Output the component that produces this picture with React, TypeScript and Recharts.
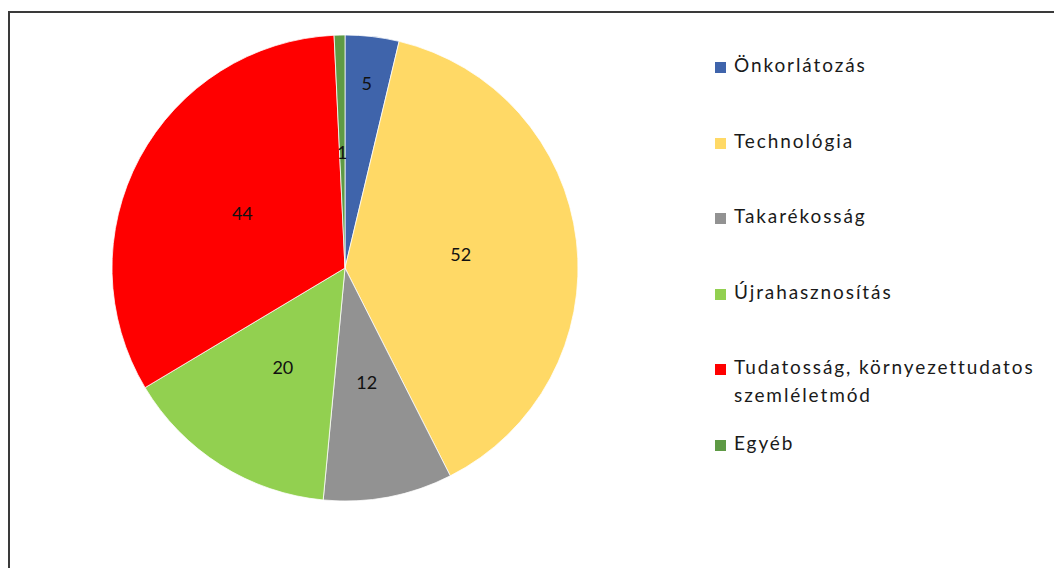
import React from 'react';
import { PieChart, Pie, Cell } from 'recharts';

const categories = [
  'Önkorlátozás',
  'Technológia',
  'Takarékosság',
  'Újrahasznosítás',
  'Tudatosság, környezettudatos szemléletmód',
  'Egyéb',
];
const values = [5, 52, 12, 20, 44, 1];
const colors = ['#3F64AB', '#FFD966', '#929292', '#92D050', '#FF0000', '#5E9A45'];

const data = categories.map((name, i) => ({ name, value: values[i] }));

const FONT = 'Lato, "Noto Sans", sans-serif';
const RAD = Math.PI / 180;

const renderLabel = ({ cx, cy, midAngle, outerRadius, value, index }: any) => {
  // Excel's "best fit" pushes the thin first slice's label outward
  const r = outerRadius * (index === 0 ? 0.8 : 0.5);
  const x = cx + r * Math.cos(-midAngle * RAD);
  const y = cy + r * Math.sin(-midAngle * RAD);
  return (
    <text x={x} y={y} fill="#111" fontSize={18} fontFamily={FONT} textAnchor="middle" dominantBaseline="central">
      {value}
    </text>
  );
};

const LegendList = () => (
  <div style={{ fontFamily: FONT, fontSize: 19, color: '#1a1a1a', letterSpacing: 1.9 }}>
    {data.map((d, i) => (
      <div key={d.name} style={{ height: 75.5, display: 'flex', alignItems: 'flex-start' }}>
        <span
          style={{
            width: 11,
            height: 11,
            background: colors[i],
            marginTop: 7,
            marginRight: 8,
            flexShrink: 0,
          }}
        />
        <span style={{ width: 330, lineHeight: '28px', marginTop: -4 }}>{d.name}</span>
      </div>
    ))}
  </div>
);

export default function App() {
  return (
    <div style={{ position: 'absolute', left: 0, top: 0, width: 1054, height: 568, overflow: 'hidden', background: '#fff' }}>
      <div
        style={{
          position: 'absolute',
          left: 8,
          top: 11,
          width: 1100,
          height: 600,
          borderLeft: '2px solid #3a3a3a',
          borderTop: '2px solid #3a3a3a',
        }}
      />
      <div style={{ position: 'absolute', left: 0, top: 0 }}>
        <PieChart width={700} height={568} margin={{ top: 0, right: 0, bottom: 0, left: 0 }}>
          <Pie
            data={data}
            dataKey="value"
            nameKey="name"
            cx={345}
            cy={268}
            outerRadius={233}
            startAngle={90}
            endAngle={-270}
            stroke="#ffffff"
            strokeWidth={0.75}
            label={renderLabel}
            labelLine={false}
            isAnimationActive={false}
          >
            {data.map((d, i) => (
              <Cell key={d.name} fill={colors[i]} />
            ))}
          </Pie>
        </PieChart>
      </div>
      <div style={{ position: 'absolute', left: 715, top: 55 }}>
        <LegendList />
      </div>
    </div>
  );
}
